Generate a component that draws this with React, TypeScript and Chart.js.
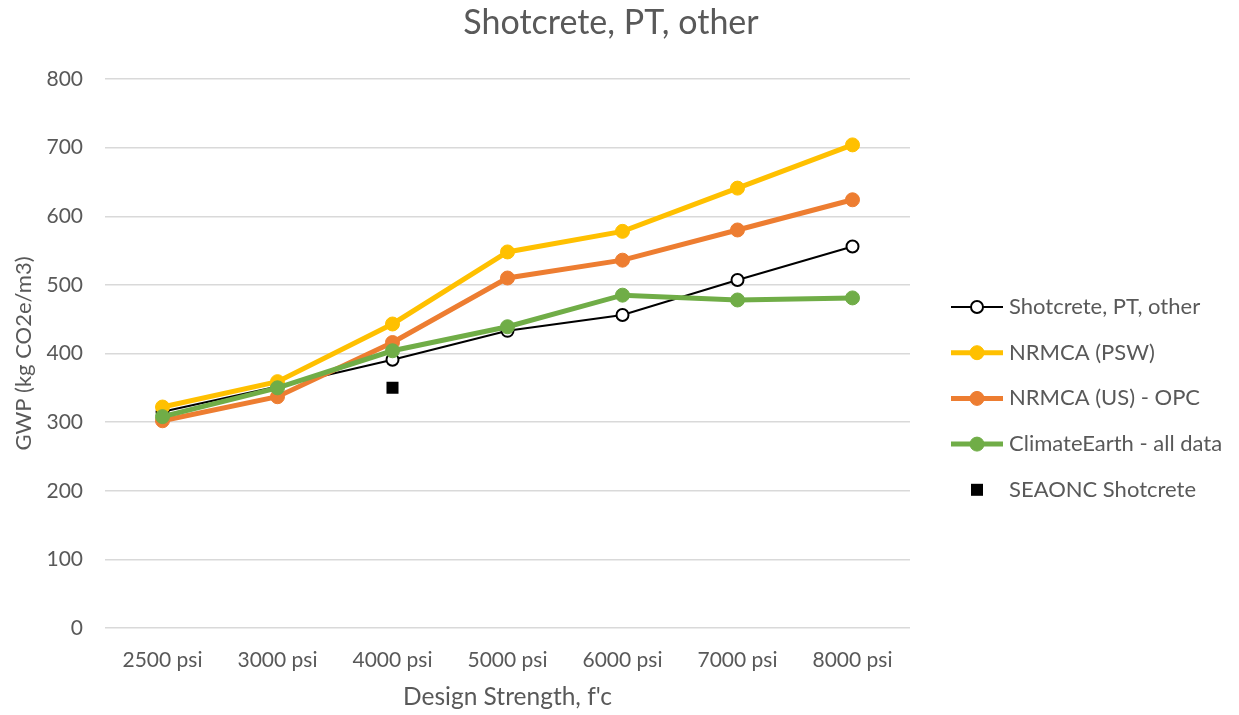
import React, { useEffect, useRef } from "react";
import { Chart, registerables } from "chart.js";

Chart.register(...registerables);

const categories = ["2500 psi", "3000 psi", "4000 psi", "5000 psi", "6000 psi", "7000 psi", "8000 psi"];
const shotcrete = [315, 352, 391, 433, 456, 507, 556];
const nrmcaPsw = [322, 359, 443, 548, 578, 641, 704];
const nrmcaUs = [302, 337, 416, 510, 536, 580, 624];
const climateEarth = [308, 350, 404, 439, 485, 478, 481];
const seaonc = [null, null, 350, null, null, null, null];

const titleText = "Shotcrete, PT, other";
const xTitle = "Design Strength, f'c";
const yTitle = "GWP (kg CO2e/m3)";

const FONT = "Lato, 'Open Sans', sans-serif";
const GRAY = "#595959";

const legendPlugin = {
  id: "customLegend",
  afterDraw(chart: any) {
    const ctx = chart.ctx;
    const items = chart.data.datasets;
    const x0 = 951;
    const x1 = 1003;
    const xm = 977;
    const yStart = 307;
    const step = 45.7;
    ctx.save();
    ctx.font = `22px ${FONT}`;
    ctx.fillStyle = GRAY;
    ctx.textBaseline = "middle";
    items.forEach((ds: any, i: number) => {
      const y = yStart + i * step;
      if (ds.showLine !== false) {
        ctx.strokeStyle = ds.borderColor;
        ctx.lineWidth = ds.borderWidth;
        ctx.beginPath();
        ctx.moveTo(x0, y);
        ctx.lineTo(x1, y);
        ctx.stroke();
      }
      if (ds.pointStyle === "rect") {
        ctx.fillStyle = "#000";
        ctx.fillRect(xm - 6, y - 6, 12, 12);
      } else {
        ctx.beginPath();
        ctx.arc(xm, y, ds.pointRadius - (ds.pointBorderWidth > 2 ? 1 : 0), 0, Math.PI * 2);
        ctx.fillStyle = ds.pointBackgroundColor;
        ctx.fill();
        ctx.lineWidth = ds.pointBorderWidth;
        ctx.strokeStyle = ds.pointBorderColor;
        ctx.stroke();
      }
      ctx.fillStyle = GRAY;
      ctx.textAlign = "left";
      ctx.fillText(ds.label, 1009, y);
    });
    // title
    ctx.font = `34px ${FONT}`;
    ctx.fillStyle = GRAY;
    ctx.textAlign = "center";
    ctx.textBaseline = "middle";
    ctx.fillText(titleText, 611, 23);
    ctx.restore();
  },
};

export default function App() {
  const ref = useRef<HTMLCanvasElement | null>(null);
  useEffect(() => {
    if (!ref.current) return;
    const chart = new Chart(ref.current, {
      type: "line",
      data: {
        labels: categories,
        datasets: [
          {
            label: "Shotcrete, PT, other",
            data: shotcrete,
            borderColor: "#000000",
            borderWidth: 2,
            pointRadius: 6,
            pointBackgroundColor: "#ffffff",
            pointBorderColor: "#000000",
            pointBorderWidth: 2,
            order: 5,
          },
          {
            label: "NRMCA (PSW)",
            data: nrmcaPsw,
            borderColor: "#FFC000",
            borderWidth: 5,
            pointRadius: 7,
            pointBackgroundColor: "#FFC000",
            pointBorderColor: "#FFC000",
            pointBorderWidth: 1,
            order: 4,
          },
          {
            label: "NRMCA (US) - OPC",
            data: nrmcaUs,
            borderColor: "#ED7D31",
            borderWidth: 5,
            pointRadius: 7,
            pointBackgroundColor: "#ED7D31",
            pointBorderColor: "#ED7D31",
            pointBorderWidth: 1,
            order: 3,
          },
          {
            label: "ClimateEarth - all data",
            data: climateEarth,
            borderColor: "#70AD47",
            borderWidth: 5,
            pointRadius: 7,
            pointBackgroundColor: "#70AD47",
            pointBorderColor: "#70AD47",
            pointBorderWidth: 1,
            order: 2,
          },
          {
            label: "SEAONC Shotcrete",
            data: seaonc,
            showLine: false,
            borderColor: "#000000",
            pointStyle: "rect",
            pointRadius: 8.5,
            pointBackgroundColor: "#000000",
            pointBorderColor: "#000000",
            pointBorderWidth: 0,
            order: 1,
          },
        ] as any,
      },
      options: {
        animation: false,
        responsive: false,
        maintainAspectRatio: false,
        layout: { padding: { left: 0, top: 79, right: 329, bottom: 0 } },
        plugins: {
          legend: { display: false },
          title: { display: false },
          tooltip: { enabled: false },
        },
        scales: {
          x: {
            offset: true,
            grid: { display: false },
            border: { display: false },
            ticks: { color: GRAY, font: { family: FONT, size: 21 }, padding: 12 },
            title: {
              display: true,
              text: xTitle,
              color: GRAY,
              font: { family: FONT, size: 24.5 },
              padding: { top: 4, bottom: 3 },
            },
            afterFit: (s: any) => {
              s.height = 87;
            },
          },
          y: {
            min: 0,
            max: 800,
            ticks: { stepSize: 100, color: GRAY, font: { family: FONT, size: 21 }, padding: 22 },
            grid: { color: "#d9d9d9", lineWidth: 1.5, drawTicks: false },
            border: { display: false },
            title: {
              display: true,
              text: yTitle,
              color: GRAY,
              font: { family: FONT, size: 22 },
              padding: { top: 11, bottom: 0 },
            },
            afterFit: (s: any) => {
              s.width = 105;
            },
          },
        },
      },
      plugins: [legendPlugin],
    });
    return () => chart.destroy();
  }, []);
  return (
    <div style={{ position: "fixed", left: 0, top: 0, width: 1239, height: 715, background: "#fff" }}>
      <canvas ref={ref} width={1239} height={715} style={{ width: 1239, height: 715 }} />
    </div>
  );
}
